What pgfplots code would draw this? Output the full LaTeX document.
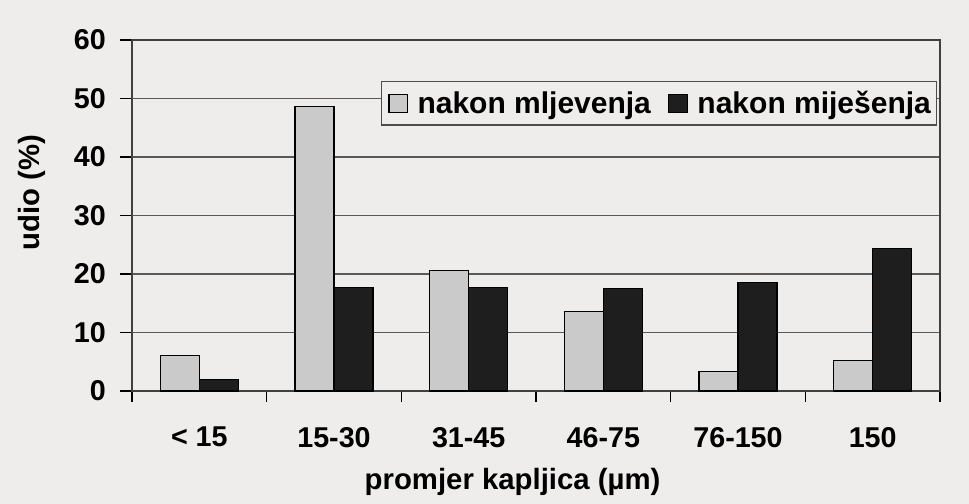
\documentclass[border=0pt]{standalone}
\usepackage{pgfplots}
\pgfplotsset{compat=1.18}
\usepackage{fontspec}
\setmainfont{Liberation Sans}
\usetikzlibrary{backgrounds}
\definecolor{bg}{HTML}{EEEDEB}
\definecolor{lg}{HTML}{CACACA}
\definecolor{dk}{HTML}{1E1E1E}
\newcommand{\ff}{\fontsize{22}{26}\selectfont\bfseries}
\newcommand{\fl}{\fontsize{22.5}{26}\selectfont\bfseries}
\newcommand{\ft}{\fontsize{21.5}{26}\selectfont\bfseries}
\begin{document}
\begin{tikzpicture}
\begin{axis}[
  scale only axis, width=606pt, height=263.25pt,
  xmin=-0.5, xmax=5.5, ymin=0, ymax=60,
  ytick={0,10,...,60},
  xtick={0,...,5},
  xticklabels={{< 15},{15-30},{31-45},{46-75},{76-150},{150}},
  minor xtick={-0.5,0.5,...,5.5},
  major x tick style={draw=none},
  tick align=outside,
  major tick length=9pt, minor tick length=8pt,
  xtick pos=lower, ytick pos=left,
  tick style={black, line width=0.8pt},
  axis line style={black!75, line width=0.9pt},
  ymajorgrids, grid style={black!65, line width=0.9pt},
  /pgf/number format/assume math mode=true,
  tick label style={font=\ft},
  yticklabel style={anchor=east, inner sep=0pt, xshift=-10.5pt},
  xticklabel style={anchor=north, inner sep=0pt, yshift=-18pt},
  xlabel={promjer kapljica (µm)},
  ylabel={udio (\%)},
  label style={font=\ff},
  xlabel style={at={(rel axis cs:0.471,0)}, anchor=north, inner sep=0pt, yshift=-57.5pt},
  ylabel style={at={(rel axis cs:0,0.565)}, anchor=south, inner sep=0pt, yshift=64.5pt},
  legend columns=2,
  legend style={at={(rel axis cs:0.996,0.882)}, anchor=north east, draw=black!70, fill=bg,
    line width=0.8pt, font=\fl, inner xsep=2pt, inner ysep=5pt,
    /tikz/every even column/.append style={column sep=8pt}},
  legend image code/.code={\draw[#1, line width=0.9pt] (0pt,-6.5pt) rectangle (14pt,6.5pt);
    \path (-3pt,0pt) (19pt,0pt);},
  clip=false,
]
\addplot[ybar, bar width=0.29, bar shift=-0.145, fill=lg, draw=black, line width=0.9pt]
  coordinates {(0,6.0) (1,48.7) (2,20.6) (3,13.6) (4,3.3) (5,5.2)};
\addplot[ybar, bar width=0.29, bar shift=0.145, fill=dk, draw=black, line width=0.9pt]
  coordinates {(0,2.0) (1,17.7) (2,17.7) (3,17.5) (4,18.5) (5,24.4)};
\legend{nakon mljevenja, nakon miješenja}
\coordinate (O) at (rel axis cs:0,0);
\coordinate (T) at (rel axis cs:1,1);
\end{axis}
\begin{scope}[on background layer]
\fill[bg] ([shift={(-99pt,-84.75pt)}]O) rectangle ([shift={(21.75pt,30pt)}]T);
\end{scope}
\end{tikzpicture}
\end{document}
